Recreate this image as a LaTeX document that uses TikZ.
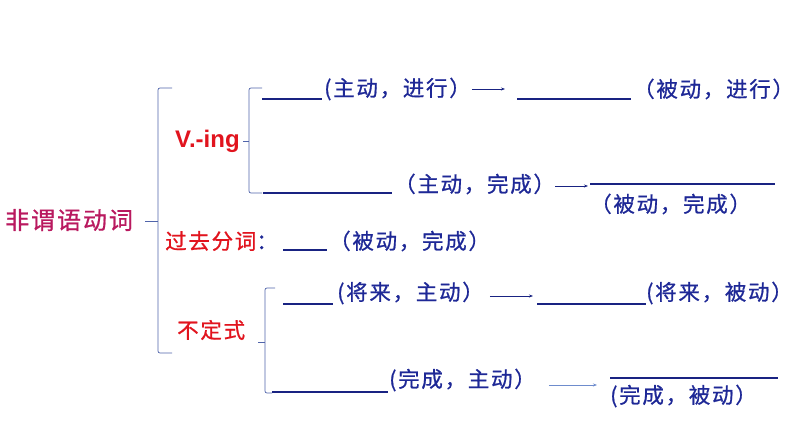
\documentclass[tikz,border=0pt]{standalone}
\usepackage{fontspec}
\setsansfont{Liberation Sans}
\newfontfamily\cjk[FakeBold=0.8,LetterSpace=8]{Noto Sans CJK SC}
\usetikzlibrary{arrows.meta}
\definecolor{navy}{RGB}{30,40,150}
\definecolor{lineblue}{RGB}{25,35,130}
\definecolor{braceblue}{RGB}{80,100,170}
\definecolor{redtxt}{RGB}{225,20,30}
\definecolor{rose}{RGB}{185,25,95}
\definecolor{lightblue}{RGB}{110,140,205}

\begin{document}
\begin{tikzpicture}[x=1pt,y=-1pt,
  txt/.style={font=\cjk\fontsize{21.5}{21.5}\selectfont, text=navy, inner sep=0pt, anchor=west},
  lab/.style={font=\cjk\fontsize{21.5}{21.5}\selectfont, text=redtxt, inner sep=0pt, anchor=west},
  blank/.style={minimum width=#1, minimum height=0pt, inner sep=0pt, anchor=west},
  ul/.style={draw=lineblue, line width=1.2pt},
  brace/.style={draw=braceblue, line width=0.7pt, rounded corners=2pt},
  arr/.style={draw=lineblue, line width=0.7pt, -{Stealth[length=4pt,width=3pt]}}]
\useasboundingbox (0,0) rectangle (794,447);

% left labels
\node (fwy) [lab, text=rose, font=\cjk\fontsize{24}{24}\selectfont] at (5,220) {非谓语动词};
\node (ving) [lab, font=\sffamily\bfseries\fontsize{24}{24}\selectfont] at (175,141) {V.-ing};
\node (gq) [lab] at (165,241) {过去分词\textcolor{navy}{：}};
\node (bds) [lab] at (177,330) {不定式};

% braces
\draw[brace] (172,88) -- (158,88) -- (158,353) -- (172,353);
\draw[brace] (145,221) -- (158,221);
\draw[brace] (262,88) -- (249,88) -- (249,193) -- (262,193);
\draw[brace] (243,141) -- (249,141);
\draw[brace] (275,288) -- (265,288) -- (265,393) -- (272,393);
\draw[brace] (258,342) -- (265,342);

% V.-ing
\node (u1) [blank=60] at (262,99) {};
\node (t1) [txt] at (324,89) {(主动，进行）};
\node (u2) [blank=114] at (517,99) {};
\node (t2) [txt] at (633,89) {（被动，进行）};
\node (u3) [blank=129] at (263,193) {};
\node (t3) [txt] at (394,184) {（主动，完成）};
\node (o1) [blank=185] at (590,184) {};
\node (t4) [txt] at (590,204) {（被动，完成）};

% past participle
\node (u4) [blank=44] at (283,250) {};
\node (t5) [txt] at (329,241) {（被动，完成）};

% infinitive
\node (u5) [blank=50] at (283,304) {};
\node (t6) [txt] at (337,293) {(将来，主动）};
\node (u6) [blank=109] at (537,304) {};
\node (t7) [txt] at (646,293) {(将来，被动）};
\node (u7) [blank=116] at (272,392) {};
\node (t8) [txt] at (389,380) {(完成，主动）};
\node (o2) [blank=168] at (610,378) {};
\node (t9) [txt] at (610,396) {(完成，被动）};

\foreach \n in {u1,u2,u3,o1,u4,u5,u6,u7,o2}
  \draw[ul] (\n.west) -- (\n.east);

\draw[arr, shorten <=1pt, shorten >=12pt] (t1.east) -- (t1.east -| u2.west);
\draw[arr, shorten <=0pt, shorten >=2pt] ([yshift=-2pt]t3.east) -- ([yshift=-2pt]t3.east -| o1.west);
\draw[arr, shorten <=6pt, shorten >=4pt] ([yshift=-3pt]t6.east) -- ([yshift=-3pt]t6.east -| u6.west);
\draw[arr, draw=lightblue, shorten <=13pt, shorten >=13pt] ([yshift=-5pt]t8.east) -- ([yshift=-5pt]t8.east -| o2.west);
\end{tikzpicture}
\end{document}
